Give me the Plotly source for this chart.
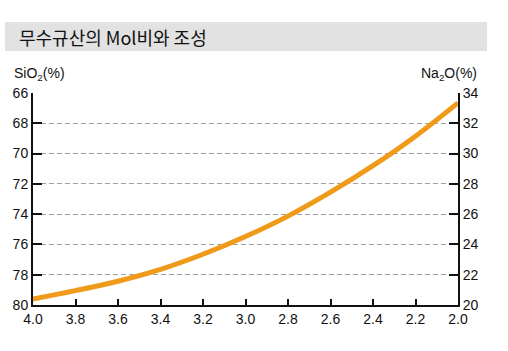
import plotly.graph_objects as go

W, H = 508, 351

# data
mol_ratio = [4.0, 3.8, 3.6, 3.4, 3.2, 3.0, 2.8, 2.6, 2.4, 2.2, 2.0]
sio2_pct = [79.6, 79.05, 78.43, 77.65, 76.65, 75.48, 74.13, 72.55, 70.8, 68.85, 66.65]

x_ticks = [4.0, 3.8, 3.6, 3.4, 3.2, 3.0, 2.8, 2.6, 2.4, 2.2, 2.0]
sio2_ticks = [66, 68, 70, 72, 74, 76, 78, 80]
na2o_ticks = [20, 22, 24, 26, 28, 30, 32, 34]

title_text = "무수규산의 Mol비와 조성"
left_label = "SiO<sub>2</sub>(%)"
right_label = "Na<sub>2</sub>O(%)"

def px(x):
    return x / W

def py(y):
    return 1 - y / H

FONT = "Liberation Sans, Arial, sans-serif"

fig = go.Figure()
fig.add_trace(go.Scatter(
    x=mol_ratio, y=sio2_pct, mode="lines",
    line=dict(color="#F09A1A", width=5, shape="spline", smoothing=1.0),
    hoverinfo="skip", showlegend=False,
))
# invisible trace for right axis
fig.add_trace(go.Scatter(x=[4.0, 2.0], y=[20, 34], yaxis="y2", mode="lines",
                         line=dict(width=0), opacity=0, showlegend=False, hoverinfo="skip"))

fig.update_layout(
    width=W, height=H,
    margin=dict(l=0, r=0, t=0, b=0, autoexpand=False),
    paper_bgcolor="white", plot_bgcolor="white",
    font=dict(family=FONT, size=14, color="#111"),
    xaxis=dict(
        domain=[px(33), px(458)], range=[4.0, 2.0], automargin=False,
        tickvals=x_ticks, ticktext=[f"{v:.1f}" for v in x_ticks],
        ticks="inside", ticklen=6, tickwidth=2, tickcolor="#111",
        showline=True, linecolor="#111", linewidth=2,
        showgrid=False, zeroline=False,
        tickfont=dict(size=14, family=FONT),
    ),
    yaxis=dict(
        domain=[py(305), py(93)], range=[80, 66], automargin=False,
        tickvals=sio2_ticks, ticks="inside", ticklen=9, tickwidth=2, tickcolor="#111",
        showline=True, linecolor="#111", linewidth=2,
        showgrid=True, gridcolor="#a0a0a0", griddash="5px,3px", gridwidth=1,
        zeroline=False, tickfont=dict(size=14, family=FONT),
    ),
    yaxis2=dict(
        domain=[py(305), py(93)], range=[20, 34], overlaying="y", side="right",
        anchor="x", automargin=False,
        tickvals=na2o_ticks, ticks="inside", ticklen=9, tickwidth=2, tickcolor="#111",
        showline=True, linecolor="#111", linewidth=2,
        showgrid=False, zeroline=False, tickfont=dict(size=14, family=FONT),
    ),
    shapes=[dict(type="rect", xref="paper", yref="paper",
                 x0=px(5), x1=px(487), y0=py(51), y1=py(22),
                 fillcolor="#e2e2e2", line=dict(width=0), layer="below")],
    annotations=[
        dict(text=title_text, xref="paper", yref="paper", x=px(17), y=py(37),
             xanchor="left", yanchor="middle", showarrow=False,
             font=dict(family="Noto Sans CJK KR", size=18, color="#111")),
        dict(text=left_label, xref="paper", yref="paper", x=px(12), y=py(74),
             xanchor="left", yanchor="middle", showarrow=False,
             font=dict(family=FONT, size=14, color="#111")),
        dict(text=right_label, xref="paper", yref="paper", x=px(479), y=py(74),
             xanchor="right", yanchor="middle", showarrow=False,
             font=dict(family=FONT, size=14, color="#111")),
    ],
)

fig.write_html("out.html")
